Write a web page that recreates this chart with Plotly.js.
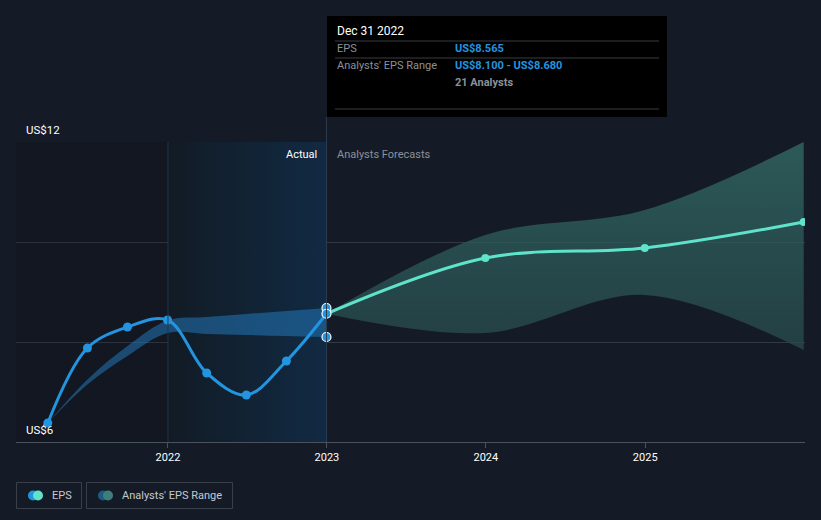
<!DOCTYPE html>
<html>
<head>
<meta charset="utf-8">
<script src="https://cdn.plot.ly/plotly-3.0.1.min.js"></script>
<style>
html,body{margin:0;padding:0;background:#151b26;}
#chart{width:821px;height:520px;}
</style>
</head>
<body>
<div id="chart"></div>
<script>
// ---- data ----
var actualDates = ['2021-03-31','2021-06-30','2021-09-30','2021-12-31','2022-03-31','2022-06-30','2022-09-30','2022-12-31'];
var actualEps   = [6.38, 7.88, 8.30, 8.44, 7.38, 6.94, 7.62, 8.565];
var actualHigh  = [6.38, 7.25, 7.92, 8.43, 8.50, 8.56, 8.62, 8.68];
var actualLow   = [6.38, 7.15, 7.72, 8.18, 8.16, 8.14, 8.12, 8.10];

var forecastDates = ['2022-12-31','2023-12-31','2024-12-31','2025-12-31'];
var forecastEps   = [8.565, 9.68, 9.88, 10.40];
var forecastHigh  = [8.565, 10.14, 10.64, 12.00];
var forecastLow   = [8.565, 8.18, 8.94, 7.84];

var rangeMarkDates = ['2022-12-31','2022-12-31','2022-12-31'];
var rangeMarkVals  = [8.68, 8.565, 8.10];

var xTickVals  = ['2022-01-01','2023-01-01','2024-01-01','2025-01-01'];
var xTickText  = ['2022','2023','2024','2025'];
var xRange     = ['2021-01-17','2026-01-03'];
var yRange     = [6, 12];
var yGrid      = [6, 8, 10, 12];

var highlightX = ['2022-01-01','2022-12-31','2022-12-31','2022-01-01','2022-01-01'];
var highlightY = [6, 6, 12, 12, 6];
var pastX = [xRange[0], '2022-01-01', '2022-01-01', xRange[0], xRange[0]];

var tipDate = 'Dec 31 2022';
var tipEps = 'US$8.565';
var tipRange = 'US$8.100 - US$8.680';
var tipAnalysts = '21 Analysts';

// ---- traces ----
var BLUE = '#2394e0', TEAL = '#5fe3cb';
var traces = [
  {x: pastX, y: highlightY, type:'scatter', mode:'lines', fill:'toself',
   fillcolor:'rgba(0,0,0,0.13)', line:{width:0}, hoverinfo:'skip', showlegend:false},
  {x: highlightX, y: highlightY, type:'scatter', mode:'lines', fill:'toself',
   fillgradient:{type:'horizontal', colorscale:[[0,'#121b25'],[1,'#112a43']]},
   line:{width:0}, hoverinfo:'skip', showlegend:false},
  {x: actualDates, y: actualLow, type:'scatter', mode:'lines', line:{width:0, shape:'spline'},
   hoverinfo:'skip', showlegend:false},
  {x: actualDates, y: actualHigh, type:'scatter', mode:'lines', line:{width:0, shape:'spline'},
   fill:'tonexty', fillcolor:'rgba(35,125,195,0.5)', hoverinfo:'skip', showlegend:false},
  {x: forecastDates, y: forecastLow, type:'scatter', mode:'lines', line:{width:0, shape:'spline'},
   hoverinfo:'skip', showlegend:false},
  {x: forecastDates, y: forecastHigh, type:'scatter', mode:'lines', line:{width:0, shape:'spline'},
   fill:'tonexty', fillgradient:{type:'vertical', colorscale:[[0,'rgba(40,75,78,0.75)'],[1,'rgba(50,105,100,0.8)']]},
   hoverinfo:'skip', showlegend:false},
  {x: actualDates, y: actualEps, type:'scatter', mode:'lines+markers',
   line:{color:BLUE, width:3, shape:'spline'}, marker:{color:BLUE, size:9}, showlegend:false},
  {x: forecastDates, y: forecastEps, type:'scatter', mode:'lines+markers',
   line:{color:TEAL, width:3, shape:'spline'}, marker:{color:TEAL, size:8}, showlegend:false},
  {x: rangeMarkDates, y: rangeMarkVals, type:'scatter', mode:'markers',
   marker:{color:BLUE, size:9, line:{color:'#ffffff', width:1.2}}, showlegend:false, cliponaxis:false}
];

// ---- layout helpers (plot area: x 16..805, y 142..442) ----
function px(x){ return (x-16)/789; }
function py(y){ return (442-y)/300; }

var shapes = [
  {type:'line', xref:'x', yref:'paper', x0:'2022-01-01', x1:'2022-01-01', y0:0, y1:1, line:{color:'#1d3850', width:1}},
  {type:'line', xref:'x', yref:'paper', x0:'2022-12-31', x1:'2022-12-31', y0:0, y1:py(117), line:{color:'#2c3c4f', width:1}},
  {type:'rect', xref:'paper', yref:'paper', x0:px(327), x1:px(667), y0:py(117), y1:py(16), fillcolor:'#000000', line:{width:0}, layer:'above'},
  {type:'line', xref:'paper', yref:'paper', x0:px(335), x1:px(659), y0:py(41), y1:py(41), line:{color:'#3a3d42', width:1}, layer:'above'},
  {type:'line', xref:'paper', yref:'paper', x0:px(335), x1:px(659), y0:py(58), y1:py(58), line:{color:'#3a3d42', width:1}, layer:'above'},
  {type:'line', xref:'paper', yref:'paper', x0:px(335), x1:px(659), y0:py(109), y1:py(109), line:{color:'#3a3d42', width:1}, layer:'above'},
  {type:'rect', xref:'paper', yref:'paper', x0:px(16.5), x1:px(81.5), y0:py(508.5), y1:py(482.5), line:{color:'#3a404a', width:1}, fillcolor:'rgba(0,0,0,0)'},
  {type:'rect', xref:'paper', yref:'paper', x0:px(86.5), x1:px(232.5), y0:py(508.5), y1:py(482.5), line:{color:'#3a404a', width:1}, fillcolor:'rgba(0,0,0,0)'},
  {type:'circle', xref:'paper', yref:'paper', xsizemode:'pixel', ysizemode:'pixel', xanchor:px(33), yanchor:py(495.5), x0:-5, x1:5, y0:-5, y1:5, fillcolor:BLUE, line:{width:0}},
  {type:'circle', xref:'paper', yref:'paper', xsizemode:'pixel', ysizemode:'pixel', xanchor:px(38), yanchor:py(495.5), x0:-5, x1:5, y0:-5, y1:5, fillcolor:TEAL, line:{width:0}},
  {type:'circle', xref:'paper', yref:'paper', xsizemode:'pixel', ysizemode:'pixel', xanchor:px(103), yanchor:py(495.5), x0:-5, x1:5, y0:-5, y1:5, fillcolor:'#1f5a85', line:{width:0}},
  {type:'circle', xref:'paper', yref:'paper', xsizemode:'pixel', ysizemode:'pixel', xanchor:px(108), yanchor:py(495.5), x0:-5, x1:5, y0:-5, y1:5, fillcolor:'#3d7e7a', line:{width:0}}
];

var F = 'Roboto, "Open Sans", sans-serif';
function ann(text, x, y, color, size, xanchor){
  return {text:text, xref:'paper', yref:'paper', x:px(x), y:py(y), xanchor:xanchor||'left', yanchor:'middle',
    showarrow:false, font:{family:F, size:size||11, color:color}};
}
var annotations = [
  ann('US$12', 24, 130, '#ffffff', 11.5),
  ann('US$6', 24, 430, '#ffffff', 11.5),
  ann('Actual', 319, 154, '#ffffff', 11, 'right'),
  ann('Analysts Forecasts', 335, 154, '#8b9099', 11),
  ann(tipDate, 335, 31, '#ffffff', 12),
  ann('EPS', 335, 49, '#8b9099', 11),
  ann('<b>'+tipEps+'</b>', 453, 49, '#2394e0', 11),
  ann("Analysts' EPS Range", 335, 66, '#8b9099', 11),
  ann('<b>'+tipRange+'</b>', 453, 66, '#2394e0', 11),
  ann('<b>'+tipAnalysts+'</b>', 453, 83, '#8b9099', 11),
  ann('EPS', 50, 495.5, '#c5c9cf', 11),
  ann("Analysts' EPS Range", 120, 495.5, '#c5c9cf', 11)
];

var layout = {
  width: 821, height: 520,
  margin: {l:16, r:16, t:142, b:78, pad:0},
  paper_bgcolor: '#151b26',
  plot_bgcolor: '#151b26',
  showlegend: false,
  hovermode: false,
  font: {family:F, color:'#ffffff', size:11},
  xaxis: {
    type:'date', range:xRange, tickvals:xTickVals, ticktext:xTickText,
    showgrid:false, zeroline:false, showline:true, linecolor:'#4c525c', linewidth:1,
    ticks:'outside', ticklen:5, tickcolor:'#4c525c', tickwidth:1,
    tickfont:{family:F, size:11, color:'#ffffff'}, fixedrange:true
  },
  yaxis: {
    range:yRange, tickvals:yGrid, showticklabels:false, showgrid:true,
    gridcolor:'#333944', gridwidth:1, zeroline:false, showline:false, fixedrange:true
  },
  shapes: shapes,
  annotations: annotations
};

Plotly.newPlot('chart', traces, layout, {displayModeBar:false, staticPlot:true});
</script>
</body>
</html>
